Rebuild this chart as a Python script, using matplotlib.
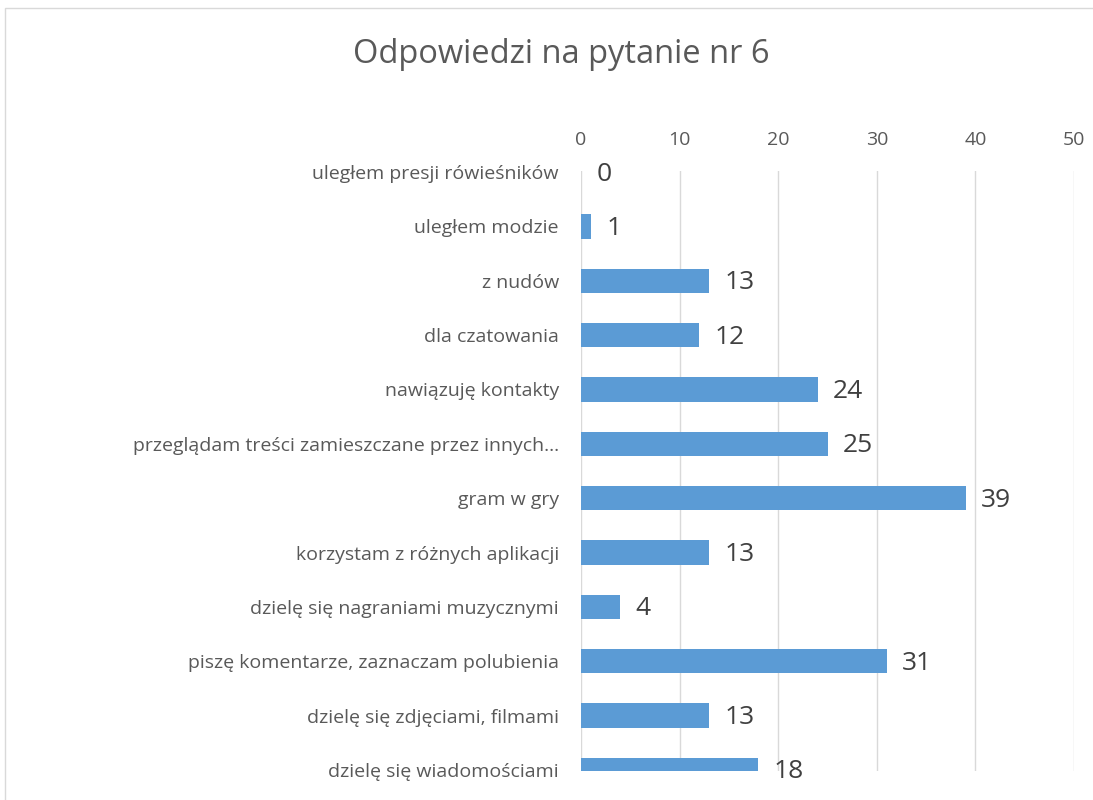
import matplotlib.pyplot as plt
from matplotlib.patches import Rectangle

# dane
categories = ['uległem presji rówieśników', 'uległem modzie', 'z nudów', 'dla czatowania',
              'nawiązuję kontakty', 'przeglądam treści zamieszczane przez innych…', 'gram w gry',
              'korzystam z różnych aplikacji', 'dzielę się nagraniami muzycznymi',
              'piszę komentarze, zaznaczam polubienia', 'dzielę się zdjęciami, filmami',
              'dzielę się wiadomościami']
values = [0, 1, 13, 12, 24, 25, 39, 13, 4, 31, 13, 18]
xticks = [0, 10, 20, 30, 40, 50]

plt.rcParams['font.family'] = ['Open Sans', 'DejaVu Sans']

fig = plt.figure(figsize=(10.93, 8), dpi=100, facecolor='white')
ax = fig.add_axes([581 / 1093, 0.03625, (1074 - 581) / 1093, 0.75])

pos = list(range(len(categories)))
ax.barh(pos, values, height=0.45, color='#5B9BD5', zorder=3)

for p, v in zip(pos, values):
    ax.annotate(str(v), (v, p), xytext=(11, -1.5), textcoords='offset points',
                ha='left', va='center', fontsize=19, color='#404040', zorder=4,
                annotation_clip=False)

ax.set_xlim(0, 50)
ax.set_ylim(11.02, -0.02)
ax.set_xticks(xticks)
ax.set_yticks(pos)
ax.set_yticklabels(categories)
ax.xaxis.tick_top()
ax.tick_params(axis='x', length=0, pad=16, labelsize=14, labelcolor='#595959')
ax.tick_params(axis='y', length=0, pad=16, labelsize=14, labelcolor='#595959')
ax.grid(axis='x', color='#D9D9D9', linewidth=1, zorder=0)
for s in ax.spines.values():
    s.set_visible(False)

fig.text(561 / 1093, 0.932, 'Odpowiedzi na pytanie nr 6', ha='center', va='center',
         fontsize=23.5, color='#595959')

# ramka wykresu
fig.patches.append(Rectangle((5 / 1093, -0.1), 1.2, 1.1 - 8 / 800, transform=fig.transFigure,
                             fill=False, edgecolor='#D9D9D9', linewidth=1))

plt.savefig('out.png', dpi=100, facecolor='white')
